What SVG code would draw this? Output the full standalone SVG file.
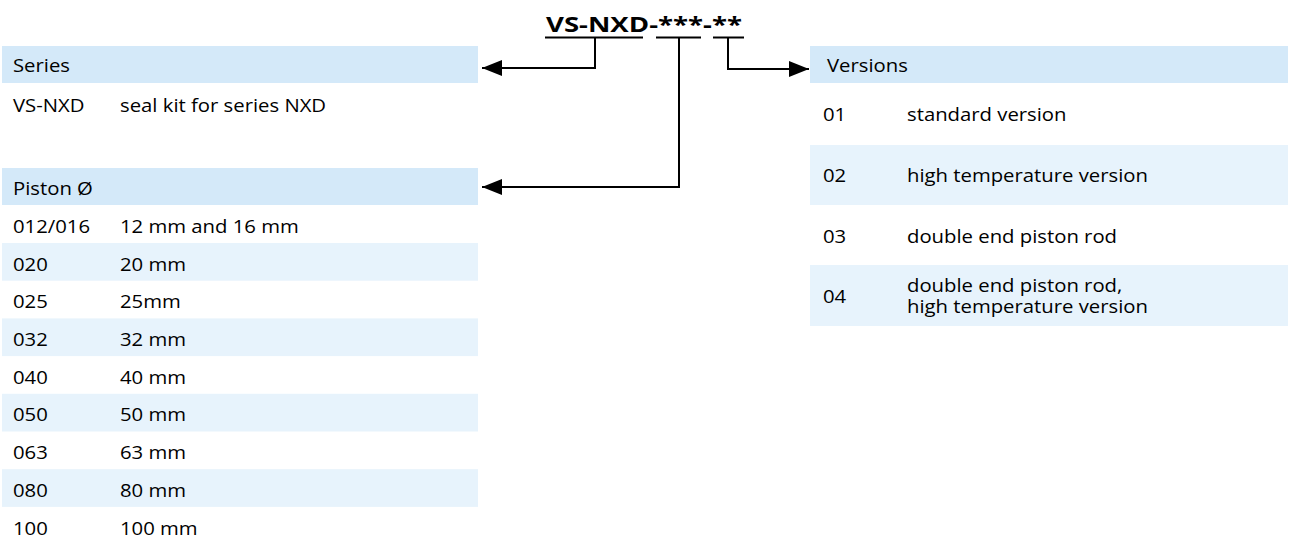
<svg xmlns="http://www.w3.org/2000/svg" width="1290" height="543" viewBox="0 0 1290 543">
<defs>
<style>
.hd{fill:#d4e9f9}
.alt{fill:#e7f3fc}
.t{font-family:"Open Sans","Noto Sans",sans-serif;font-size:17.5px;fill:#000}
.ttl{font-family:"Open Sans","Noto Sans",sans-serif;font-size:22px;font-weight:bold;fill:#000}
.ln{fill:none;stroke:#000;stroke-width:2}
</style>
<marker id="ah" markerUnits="userSpaceOnUse" markerWidth="20" markerHeight="16" refX="20" refY="8" orient="auto">
<path d="M0,0 L20,8 L0,16 z" fill="#000"/>
</marker>
</defs>
<rect width="1290" height="543" fill="#fff"/>

<g id="title">
<text class="ttl" x="546" y="32" textLength="196" lengthAdjust="spacingAndGlyphs">VS-NXD-***-**</text>
<line class="ln" x1="545" y1="37.5" x2="643" y2="37.5"/>
<line class="ln" x1="656" y1="37.5" x2="701" y2="37.5"/>
<line class="ln" x1="713" y1="37.5" x2="744" y2="37.5"/>
</g>

<g id="connectors">
<path class="ln" d="M595 38 V68 H482" marker-end="url(#ah)"/>
<path class="ln" d="M679 38 V187 H482" marker-end="url(#ah)"/>
<path class="ln" d="M728 38 V69 H809" marker-end="url(#ah)"/>
</g>

<g id="series">
<rect class="hd" x="2" y="46" width="476" height="37"/>
<g transform="scale(1.16 1)">
<text class="t" x="11.21" y="72">Series</text>
<text class="t" x="11.21" y="112">VS-NXD</text>
<text class="t" x="103.45" y="112">seal kit for series NXD</text>
</g>
</g>

<g id="piston">
<rect class="hd" x="2" y="168" width="476" height="37"/>
<rect class="alt" x="2" y="243" width="476" height="37.7"/>
<rect class="alt" x="2" y="318.4" width="476" height="37.7"/>
<rect class="alt" x="2" y="393.8" width="476" height="37.7"/>
<rect class="alt" x="2" y="469.2" width="476" height="37.7"/>
<g transform="scale(1.16 1)">
<text class="t" x="11.21" y="195">Piston Ø</text>
<text class="t" x="11.21" y="233">012/016</text><text class="t" x="103.45" y="233">12 mm and 16 mm</text>
<text class="t" x="11.21" y="270.7">020</text><text class="t" x="103.45" y="270.7">20 mm</text>
<text class="t" x="11.21" y="308.4">025</text><text class="t" x="103.45" y="308.4">25mm</text>
<text class="t" x="11.21" y="346.1">032</text><text class="t" x="103.45" y="346.1">32 mm</text>
<text class="t" x="11.21" y="383.8">040</text><text class="t" x="103.45" y="383.8">40 mm</text>
<text class="t" x="11.21" y="421.5">050</text><text class="t" x="103.45" y="421.5">50 mm</text>
<text class="t" x="11.21" y="459.2">063</text><text class="t" x="103.45" y="459.2">63 mm</text>
<text class="t" x="11.21" y="496.9">080</text><text class="t" x="103.45" y="496.9">80 mm</text>
<text class="t" x="11.21" y="534.6">100</text><text class="t" x="103.45" y="534.6">100 mm</text>
</g>
</g>

<g id="versions">
<rect class="hd" x="810" y="46" width="478" height="37"/>
<rect class="alt" x="810" y="145" width="478" height="60"/>
<rect class="alt" x="810" y="265" width="478" height="61"/>
<g transform="scale(1.16 1)">
<text class="t" x="712.93" y="72">Versions</text>
<text class="t" x="709.48" y="121">01</text><text class="t" x="781.9" y="121">standard version</text>
<text class="t" x="709.48" y="182">02</text><text class="t" x="781.9" y="182">high temperature version</text>
<text class="t" x="709.48" y="243">03</text><text class="t" x="781.9" y="243">double end piston rod</text>
<text class="t" x="709.48" y="303">04</text>
<text class="t" x="781.9" y="292"><tspan x="781.9">double end piston rod,</tspan><tspan x="781.9" dy="21">high temperature version</tspan></text>
</g>
</g>
</svg>
